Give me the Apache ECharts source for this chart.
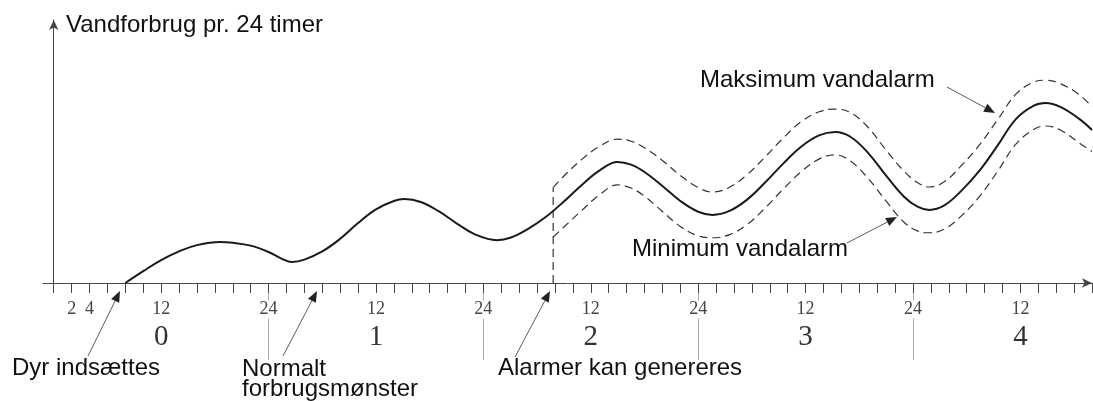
<!DOCTYPE html>
<html><head><meta charset="utf-8">
<script src="https://cdn.jsdelivr.net/npm/echarts@6/dist/echarts.min.js"></script>
<style>html,body{margin:0;padding:0;background:#fff}#c{width:1093px;height:401px}</style>
</head><body><div id="c"></div>
<script>
// ---- data (hours since insertion, relative water use) ----
const usageHours  = [8, 10, 12, 14, 16, 18.6, 20, 22, 24, 25.5, 26.6, 28, 30, 32, 34, 36, 38, 39.2, 41, 43, 45, 47, 49.5, 51, 53, 55,
                     57, 59, 61, 63, 64.5, 66, 68, 70, 72, 73.6, 75.5, 77.5, 79.5, 81.5, 83.5, 85.5, 87.3, 89, 91, 93, 95, 96.5, 97.8,
                     99.5, 101.5, 103.5, 105.5, 107.5, 109.5, 110.8, 112.5, 114.5, 116];
const usageValues = [0, 4.5, 8.7, 12.0, 14.4, 15.6, 15.3, 14.2, 11.8, 9.2, 8.0, 8.9, 12.0, 16.8, 22.8, 28.0, 31.2, 31.9, 30.8, 27.3, 22.7, 18.6, 16.3, 17.2, 20.6, 25.2,
                     31.0, 37.3, 42.8, 46.0, 45.0, 42.2, 36.9, 31.2, 27.1, 25.9, 27.4, 31.8, 38.3, 45.4, 51.8, 56.1, 57.4, 55.6, 49.4, 40.8, 32.8, 29.0, 27.8,
                     29.5, 35.4, 43.0, 52.5, 62.3, 67.4, 68.4, 66.9, 62.6, 58.2];
const alarmHours = [55.8, 57, 59, 61, 63, 64.5, 66, 68, 70, 72, 73.6, 75.5, 77.5, 79.5, 81.5, 83.5, 85.5, 87.3, 89, 91, 93, 95, 96.5, 97.8,
                    99.5, 101.5, 103.5, 105.5, 107.5, 109.5, 110.8, 112.5, 114.5, 116];
const maxValues  = [36.3, 40.7, 47.0, 52.0, 54.7, 53.9, 51.4, 46.6, 40.9, 36.3, 34.6, 36.4, 41.3, 48.0, 55.1, 61.3, 65.1, 66.1, 64.8, 59.1, 50.5, 42.5, 38.2, 36.5,
                    38.5, 45.0, 52.8, 62.3, 71.8, 76.4, 77.1, 75.7, 71.8, 67.0];
const minValues  = [17.5, 21.3, 27.6, 33.6, 37.3, 36.1, 33.0, 27.2, 21.5, 17.9, 17.2, 18.4, 22.3, 28.6, 35.7, 42.3, 47.1, 48.7, 46.4, 39.7, 31.1, 23.1, 19.8, 19.1,
                    20.5, 25.8, 33.2, 42.7, 52.8, 58.4, 59.7, 58.1, 53.4, 50.0];
const alarmStartHour = 55.8;

const hourLabelValues = [2, 4, 12, 24, 36, 48, 60, 72, 84, 96, 108];
const hourLabelTexts  = ['2', '4', '12', '24', '12', '24', '12', '24', '12', '24', '12'];
const dayLabelHours   = [12, 36, 60, 84, 108];
const dayLabels       = ['0', '1', '2', '3', '4'];
const dayBoundaryHours = [24, 48, 72, 96];
const tickHours = [];
for (let h = 0; h <= 116; h += 2) tickHours.push(h);

const yTitle = 'Vandforbrug pr. 24 timer';
const notes = {
  insert: 'Dyr indsættes',
  normal: 'Normalt\nforbrugsmønster',
  alarm: 'Alarmer kan genereres',
  max: 'Maksimum vandalarm',
  min: 'Minimum vandalarm'
};

const pair = (xs, ys) => xs.map((x, i) => [x, ys[i]]);
const SANS = "'Liberation Sans', Arial, sans-serif";
const SERIF = "'Liberation Serif', 'Times New Roman', serif";

function arrow(x1, y1, x2, y2) {
  const dx = x2 - x1, dy = y2 - y1, L = Math.hypot(dx, dy);
  const ux = dx / L, uy = dy / L, hl = 11, hw = 4.5;
  const bx = x2 - ux * hl, by = y2 - uy * hl;
  return [
    { type: 'line', shape: { x1, y1, x2: bx, y2: by }, style: { stroke: '#333', lineWidth: 0.8 }, z: 10 },
    { type: 'polygon', shape: { points: [[x2, y2], [bx - uy * hw, by + ux * hw], [bx + uy * hw, by - ux * hw]] }, style: { fill: '#222' }, z: 10 }
  ];
}
function txt(x, y, text) {
  return { type: 'text', x, y, z: 10,
    style: { text, font: "24px " + SANS, fill: '#111', textVerticalAlign: 'middle', lineHeight: 20 } };
}

const chart = echarts.init(document.getElementById('c'), null, { renderer: 'canvas' });
const dashed = { color: '#333', width: 1.2, type: [8, 5] };
chart.setOption({
  animation: false,
  backgroundColor: '#fff',
  grid: { left: 43, right: 1, top: 20, bottom: 118 },
  xAxis: [
    { type: 'value', min: -1.2, max: 116, position: 'bottom', z: 0,
      axisLine: { show: false }, splitLine: { show: false }, axisLabel: { show: false },
      axisTick: { show: true, customValues: dayBoundaryHours, length: 77, lineStyle: { color: '#aaa', width: 1 } } },
    { type: 'value', min: -1.2, max: 116, position: 'bottom', z: 1,
      axisLine: { show: true, onZero: true, symbol: ['none', 'arrow'], symbolSize: [7, 10], lineStyle: { color: '#444', width: 1 } },
      axisTick: { show: true, customValues: tickHours, length: 10, lineStyle: { color: '#444', width: 1 } },
      splitLine: { show: false },
      axisLabel: {
        show: true, customValues: hourLabelValues, margin: 17,
        formatter: function (v) {
          const i = hourLabelValues.indexOf(v);
          const t = i >= 0 ? hourLabelTexts[i] : '';
          const d = dayLabelHours.indexOf(v);
          if (d >= 0) return '{h|' + t + '}\n{d|' + dayLabels[d] + '}';
          if (dayBoundaryHours.indexOf(v) >= 0) return '{w|' + t + '}';
          return '{h|' + t + '}';
        },
        rich: {
          h: { fontFamily: SERIF, fontSize: 18, color: '#444', lineHeight: 19 },
          w: { fontFamily: SERIF, fontSize: 18, color: '#444', lineHeight: 19, backgroundColor: '#fff', padding: [0, 1] },
          d: { fontFamily: SERIF, fontSize: 29, color: '#333', lineHeight: 36 }
        }
      } }
  ],
  yAxis: { type: 'value', min: 0, max: 100,
    axisLine: { show: true, onZero: true, onZeroAxisIndex: 1, symbol: ['none', 'arrow'], symbolSize: [7, 10], lineStyle: { color: '#444', width: 1 } },
    axisTick: { show: false }, axisLabel: { show: false }, splitLine: { show: false } },
  series: [
    { name: 'forbrug', type: 'line', xAxisIndex: 1, data: pair(usageHours, usageValues), smooth: 0.4,
      showSymbol: false, lineStyle: { color: '#1a1a1a', width: 2 }, z: 5 },
    { name: 'max', type: 'line', xAxisIndex: 1, data: pair(alarmHours, maxValues), smooth: 0.4,
      showSymbol: false, lineStyle: dashed },
    { name: 'min', type: 'line', xAxisIndex: 1, data: pair(alarmHours, minValues), smooth: 0.4,
      showSymbol: false, lineStyle: dashed },
    { name: 'alarmstart', type: 'line', xAxisIndex: 1, data: [[alarmStartHour, 0], [alarmStartHour, maxValues[0]]],
      showSymbol: false, lineStyle: dashed }
  ],
  graphic: [
    txt(66, 25, yTitle),
    txt(700, 80, notes.max),
    txt(632, 249, notes.min),
    txt(12, 368, notes.insert),
    txt(242, 379, notes.normal),
    txt(498, 368, notes.alarm),
    ...arrow(88, 356, 120, 291),
    ...arrow(283, 356, 317, 291),
    ...arrow(515, 357, 550, 291),
    ...arrow(947, 87, 995, 113),
    ...arrow(847, 243, 897, 217)
  ]
});
</script></body></html>
